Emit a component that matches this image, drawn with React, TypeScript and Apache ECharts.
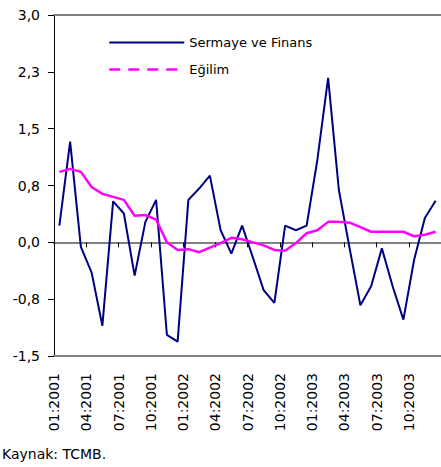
import React, { useEffect, useRef } from "react";
import * as echarts from "echarts";

const months = [
  "01:2001", "02:2001", "03:2001", "04:2001", "05:2001", "06:2001",
  "07:2001", "08:2001", "09:2001", "10:2001", "11:2001", "12:2001",
  "01:2002", "02:2002", "03:2002", "04:2002", "05:2002", "06:2002",
  "07:2002", "08:2002", "09:2002", "10:2002", "11:2002", "12:2002",
  "01:2003", "02:2003", "03:2003", "04:2003", "05:2003", "06:2003",
  "07:2003", "08:2003", "09:2003", "10:2003", "11:2003", "12:2003",
];

const xTickLabels = [
  "01:2001", "04:2001", "07:2001", "10:2001",
  "01:2002", "04:2002", "07:2002", "10:2002",
  "01:2003", "04:2003", "07:2003", "10:2003",
];

const yTickLabels = ["-1,5", "-0,8", "0,0", "0,8", "1,5", "2,3", "3,0"];

const sermaye = [
  0.22, 1.33, -0.06, -0.40, -1.10, 0.54, 0.38, -0.44, 0.27, 0.56, -1.22, -1.31,
  0.56, 0.71, 0.88, 0.16, -0.15, 0.22, -0.20, -0.63, -0.80, 0.22, 0.16, 0.22,
  1.09, 2.17, 0.69, -0.08, -0.83, -0.58, -0.08, -0.58, -1.02, -0.23, 0.32, 0.55,
];

const egilim = [
  0.93, 0.97, 0.93, 0.73, 0.64, 0.60, 0.56, 0.35, 0.36, 0.30, 0.00, -0.10,
  -0.09, -0.13, -0.07, -0.01, 0.06, 0.04, 0.00, -0.04, -0.10, -0.11, -0.01, 0.12,
  0.16, 0.27, 0.27, 0.26, 0.20, 0.14, 0.14, 0.14, 0.14, 0.08, 0.10, 0.14,
];

const FONT = "DejaVu Sans";

export default function App() {
  const ref = useRef<HTMLDivElement>(null);
  useEffect(() => {
    if (!ref.current) return;
    const chart = echarts.init(ref.current, undefined, { renderer: "svg" });
    const hidden = { color: "transparent", opacity: 0, borderWidth: 0 };
    chart.setOption({
      animation: false,
      backgroundColor: "#ffffff",
      grid: { left: 54, top: 15, width: 397, height: 341 },
      legend: {
        orient: "vertical",
        left: 103,
        top: 31,
        itemWidth: 75,
        itemHeight: 16,
        itemGap: 14,
        textStyle: { fontFamily: FONT, fontSize: 13, color: "#000" },
        data: [
          {
            name: "Sermaye ve Finans",
            itemStyle: hidden,
            lineStyle: { width: 2, color: "#000080" },
          },
          {
            name: "Eğilim",
            itemStyle: hidden,
            lineStyle: { width: 2.5, color: "#ff00ff", type: [11, 8] },
          },
        ],
      },
      xAxis: [
        {
          type: "category",
          data: months,
          boundaryGap: true,
          axisLine: { onZero: true, lineStyle: { color: "#808080", width: 2 } },
          axisTick: { show: true, interval: 2, length: 5, lineStyle: { color: "#000", width: 1 } },
          axisLabel: { show: false },
          splitLine: { show: false },
        },
        {
          type: "value",
          min: 0,
          max: 36,
          interval: 3,
          position: "bottom",
          axisLine: { onZero: false, lineStyle: { color: "#808080", width: 2 } },
          axisTick: { show: false },
          splitLine: { show: false },
          axisLabel: {
            rotate: 90,
            margin: 17,
            fontFamily: FONT,
            fontSize: 14,
            color: "#000",
            formatter: (v: number) => {
              const i = Math.round(v / 3);
              return i < xTickLabels.length ? xTickLabels[i] : "";
            },
          },
        },
        {
          type: "value",
          min: 0,
          max: 36,
          interval: 3,
          position: "top",
          axisLine: { onZero: false, lineStyle: { color: "#808080", width: 2 } },
          axisTick: { show: false },
          axisLabel: { show: false },
          splitLine: { show: false },
        },
      ],
      yAxis: {
        type: "value",
        min: -1.5,
        max: 3,
        interval: 0.75,
        axisLine: { show: true, onZero: false, lineStyle: { color: "#000", width: 1 } },
        axisTick: { show: true, length: 6, lineStyle: { color: "#000" } },
        splitLine: { show: false },
        axisLabel: {
          margin: 14,
          fontFamily: FONT,
          fontSize: 14,
          color: "#000",
          formatter: (v: number) => {
            const i = Math.round((v + 1.5) / 0.75);
            return yTickLabels[i] ?? "";
          },
        },
      },
      series: [
        {
          name: "Sermaye ve Finans",
          type: "line",
          xAxisIndex: 0,
          data: sermaye,
          symbol: "none",
          lineStyle: { color: "#000080", width: 2 },
          itemStyle: { color: "#000080" },
          z: 3,
        },
        {
          name: "Eğilim",
          type: "line",
          xAxisIndex: 0,
          data: egilim,
          symbol: "none",
          lineStyle: { color: "#ff00ff", width: 2.5 },
          itemStyle: { color: "#ff00ff" },
          z: 4,
        },
      ],
      graphic: [
        {
          type: "text",
          left: 2,
          top: 447,
          style: { text: "Kaynak: TCMB.", fontFamily: FONT, fontSize: 14, fill: "#000" },
        },
      ],
    });
    return () => chart.dispose();
  }, []);
  return (
    <div
      ref={ref}
      style={{ position: "fixed", left: 0, top: 0, width: 441, height: 467, overflow: "hidden" }}
    />
  );
}
